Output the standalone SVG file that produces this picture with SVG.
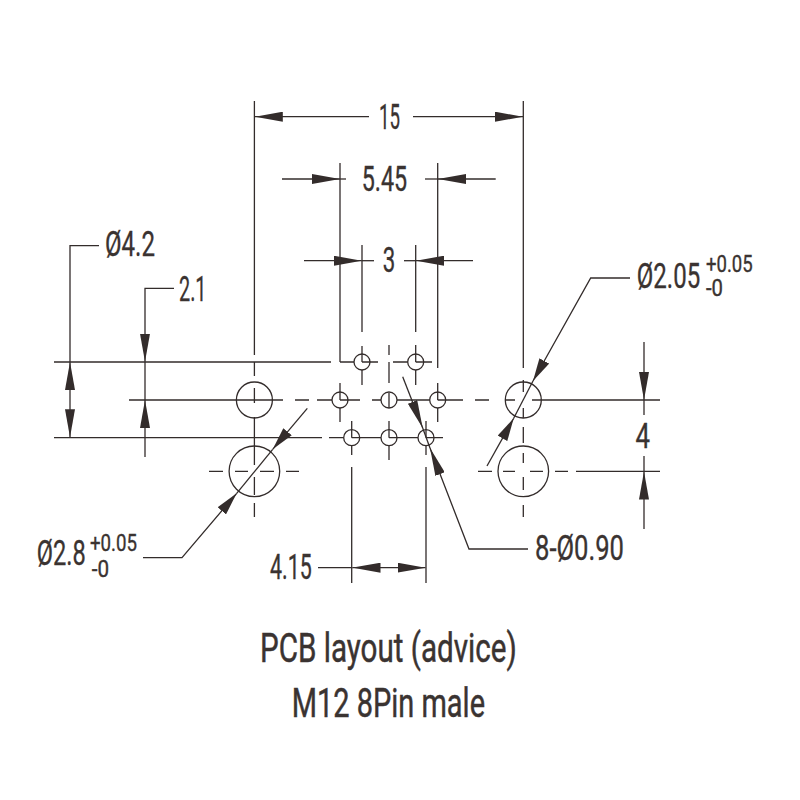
<svg xmlns="http://www.w3.org/2000/svg" width="800" height="800" viewBox="0 0 800 800">
<style>
.l{fill:none;stroke:#332c2b;stroke-width:1.3}
.a{marker-end:url(#ah)}
.b{marker-end:url(#as)}
text{font-family:"Roboto","Liberation Sans",sans-serif;fill:#3a3331;stroke:#3a3331;stroke-width:.35;font-weight:400}
.t34{font-size:35.5px}
.t23{font-size:23.5px}
.t40{font-size:41px;stroke-width:.5}
</style>
<defs>
<marker id="ah" markerUnits="userSpaceOnUse" viewBox="0 0 28 10" refX="28" refY="5" markerWidth="28" markerHeight="10" orient="auto"><path d="M0 0L28 5L0 10Z" fill="#332c2b"/></marker>
<marker id="as" markerUnits="userSpaceOnUse" viewBox="0 0 23 11" refX="23" refY="5.5" markerWidth="23" markerHeight="11" orient="auto"><path d="M0 0L23 5.5L0 11Z" fill="#332c2b"/></marker>
</defs>
<rect width="800" height="800" fill="#fff"/>
<g id="centerlines">
<path class="l" d="M54 362H331M340 362H354M362 362H378M393 362H407.7M415.7 362H432"/>
<path class="l" d="M129 400H283M295 400H309M317 400H332M340 400H360M372 400H381M397 400H429.7M437.7 400H463M475 400H489M505 400H515M532 400H660"/>
<path class="l" d="M54 437.7H322M329 437.7H343.7M351.7 437.7H381M389 437.7H418M426 437.7H443"/>
<path class="l" d="M209 471.3H223M235 471.3H248M260 471.3H274M286 471.3H299"/>
<path class="l" d="M478 471.3H492M503 471.3H515M530 471.3H543M555 471.3H568M576 471.3H660"/>
<path class="l" d="M254.4 101V355M254.4 362V376M254.4 388V403M254.4 417V465M254.4 477V495M254.4 503V517"/>
<path class="l" d="M523.3 101V368M523.3 380V392M523.3 408V418M523.3 427V443M523.3 453V463M523.3 477V490M523.3 505V517"/>
<path class="l" d="M340 163V362M340 383V400M340 408V422M437.7 163V368M437.7 383V400M437.7 408V422"/>
<path class="l" d="M362 245V332M362 346V362M362 370V385M415.7 245V332M415.7 345V362M415.7 370V385"/>
<path class="l" d="M389 345V355M389 362V383M389 393V408M389 421V437.7M389 445.7V460"/>
<path class="l" d="M351.7 421V437.7M351.7 445.7V455M351.7 467V583M426 421V437.7M426 445.7V455M426 467V583"/>
</g>
<g id="holes">
<circle class="l" cx="254.4" cy="400" r="18"/>
<circle class="l" cx="254.4" cy="471.3" r="25.3"/>
<circle class="l" cx="523.3" cy="400" r="18"/>
<circle class="l" cx="523.3" cy="471.3" r="25.3"/>
<circle class="l" cx="362" cy="362" r="8"/>
<circle class="l" cx="415.7" cy="362" r="8"/>
<circle class="l" cx="340" cy="400" r="8"/>
<circle class="l" cx="389" cy="400" r="8"/>
<circle class="l" cx="437.7" cy="400" r="8"/>
<circle class="l" cx="351.7" cy="437.7" r="8"/>
<circle class="l" cx="389" cy="437.7" r="8"/>
<circle class="l" cx="426" cy="437.7" r="8"/>
</g>
<g id="connectors">
<path class="l a" d="M369 116.7H254.8"/>
<path class="l a" d="M413 116.7H523"/>
<path class="l a" d="M282 179H340"/>
<path class="l" d="M340 179H346"/>
<path class="l a" d="M495.7 179H438"/>
<path class="l" d="M438 179H425"/>
<path class="l a" d="M304 260.7H361.7"/>
<path class="l" d="M361.7 260.7H374"/>
<path class="l a" d="M473 260.7H416"/>
<path class="l" d="M416 260.7H404"/>
<path class="l" d="M99 245.7H70V362"/>
<path class="l a" d="M70 400V362"/>
<path class="l a" d="M70 400V437.3"/>
<path class="l a" d="M174 288.3H145V361.7"/>
<path class="l" d="M145 361.7V400"/>
<path class="l a" d="M145 457V400"/>
<path class="l a" d="M644 342V400"/>
<path class="l" d="M644 400V415"/>
<path class="l a" d="M644 529V471.5"/>
<path class="l" d="M644 471.5V456"/>
<path class="l b" d="M630 278H590.7L533 381"/>
<path class="l" d="M533 381L513.7 418.3"/>
<path class="l b" d="M487 466L513.7 418.3"/>
<path class="l b" d="M143 557.7H182L236.7 493.3"/>
<path class="l" d="M236.7 493.3L272.7 449.3"/>
<path class="l b" d="M307.3 408.3L272.7 449.3"/>
<path class="l a" d="M402.7 376.7L422.7 428"/>
<path class="l" d="M422.7 428L430 448"/>
<path class="l a" d="M528 549H469L430 448"/>
<path class="l" d="M318 567.7H352.5"/>
<path class="l a" d="M389 567.7H352.5"/>
<path class="l a" d="M389 567.7H425.5"/>
</g>
<g id="labels">
<text class="t34" x="379" y="129" textLength="21" lengthAdjust="spacingAndGlyphs">15</text>
<text class="t34" x="361.7" y="190.7" textLength="45.5" lengthAdjust="spacingAndGlyphs">5.45</text>
<text class="t34" x="382.7" y="272" textLength="12.5" lengthAdjust="spacingAndGlyphs">3</text>
<text class="t34" x="105" y="255.7" textLength="50" lengthAdjust="spacingAndGlyphs">Ø4.2</text>
<text class="t34" x="179" y="301" textLength="27.5" lengthAdjust="spacingAndGlyphs">2.1</text>
<text class="t34" x="636.7" y="288" textLength="63.5" lengthAdjust="spacingAndGlyphs">Ø2.05</text>
<text class="t23" x="706" y="271.7" textLength="46.7" lengthAdjust="spacingAndGlyphs">+0.05</text>
<text class="t23" x="706" y="295.7" textLength="17" lengthAdjust="spacingAndGlyphs">-0</text>
<text class="t34" x="635.5" y="448" textLength="14.5" lengthAdjust="spacingAndGlyphs">4</text>
<text class="t34" x="36.7" y="565" textLength="49" lengthAdjust="spacingAndGlyphs">Ø2.8</text>
<text class="t23" x="90" y="550.7" textLength="47" lengthAdjust="spacingAndGlyphs">+0.05</text>
<text class="t23" x="91.7" y="576.7" textLength="17.3" lengthAdjust="spacingAndGlyphs">-0</text>
<text class="t34" x="270" y="579.3" textLength="41.7" lengthAdjust="spacingAndGlyphs">4.15</text>
<text class="t34" x="535" y="560" textLength="89" lengthAdjust="spacingAndGlyphs">8-Ø0.90</text>
<text class="t40" x="260" y="661.7" textLength="256.7" lengthAdjust="spacingAndGlyphs">PCB layout (advice)</text>
<text class="t40" x="291.7" y="716.7" textLength="193.3" lengthAdjust="spacingAndGlyphs">M12 8Pin male</text>
</g>
</svg>
